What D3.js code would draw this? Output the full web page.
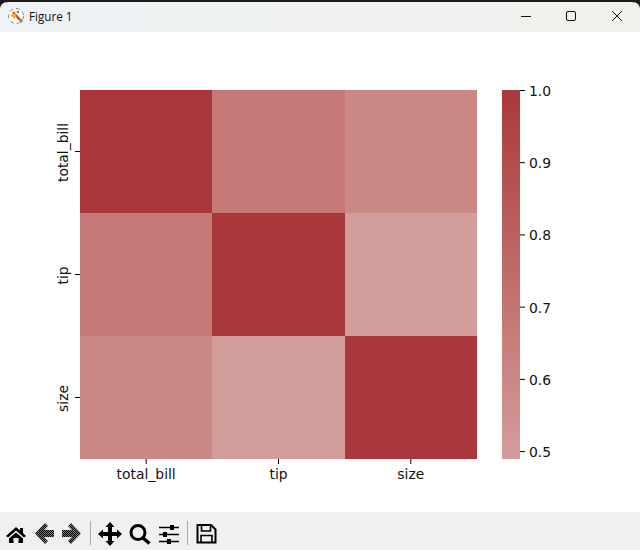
<!DOCTYPE html>
<html>
<head>
<meta charset="utf-8">
<script src="https://cdn.jsdelivr.net/npm/d3@7"></script>
<style>
  html, body { margin: 0; padding: 0; background: #fff; overflow: hidden; }
  svg { display: block; }
  text { font-family: "DejaVu Sans", sans-serif; font-size: 13.9px; fill: #111; }
  .title { font-family: "Open Sans", "Noto Sans", sans-serif; font-size: 11.7px; fill: #111; }
</style>
</head>
<body>
<div id="vis"></div>
<script>
var labels = ["total_bill", "tip", "size"];
var corr = [
  [1.0, 0.676, 0.598],
  [0.676, 1.0, 0.489],
  [0.598, 0.489, 1.0]
];
var barTicks = [0.5, 0.6, 0.7, 0.8, 0.9, 1.0];

var width = 640, height = 550;
var plot = {left: 80, right: 477, top: 90, bottom: 459};
var bar = {left: 502, right: 520};

var svg = d3.select("#vis").append("svg")
  .attr("width", width)
  .attr("height", height);

var defs = svg.append("defs");

// window title bar
var titleGrad = defs.append("linearGradient").attr("id", "titlebar");
titleGrad.append("stop").attr("offset", "0").attr("stop-color", "#eff2f6");
titleGrad.append("stop").attr("offset", "1").attr("stop-color", "#eff2ec");

svg.append("rect").attr("width", width).attr("height", 32).attr("fill", "#1c1c1c");
svg.append("path")
  .attr("d", "M0,32 V10 Q0,2 8,2 H632 Q640,2 640,10 V32 Z")
  .attr("fill", "url(#titlebar)");

var logo = svg.append("g").attr("transform", "translate(16,16)");
logo.append("circle").attr("r", 7.5).attr("fill", "#fff").attr("stroke", "#888").attr("stroke-dasharray", "4 3");
logo.append("path").attr("d", "M-3,-4 L6,6").attr("stroke", "#d9600f").attr("stroke-width", 2.5);
logo.append("path").attr("d", "M-6,-1 L0,-3 L-1,3 Z").attr("fill", "#f2b01e");
logo.append("rect").attr("x", 1).attr("y", -5).attr("width", 2).attr("height", 2).attr("fill", "#3d8a3d");
logo.append("rect").attr("x", 1).attr("y", 1).attr("width", 2).attr("height", 2).attr("fill", "#3d8a3d");

svg.append("text").attr("class", "title").attr("x", 29).attr("y", 21).text("Figure 1");

var winBtn = svg.append("g").attr("fill", "none").attr("stroke", "#111").attr("stroke-width", 1);
winBtn.append("path").attr("d", "M521,16.5 H531");
winBtn.append("rect").attr("x", 566.5).attr("y", 11.5).attr("width", 9).attr("height", 9).attr("rx", 1.5);
winBtn.append("path").attr("d", "M612,11 L622,21 M622,11 L612,21");

// heatmap
var x = d3.scaleBand().domain(labels).range([plot.left, plot.right]);
var y = d3.scaleBand().domain(labels).range([plot.top, plot.bottom]);
var v = d3.scaleLinear().domain([0.489, 1.0]).range([plot.bottom, plot.top]);
var color = d3.scaleLinear()
  .domain([0.489, 1.0])
  .range(["#d39d9b", "#a9373b"])
  .interpolate(d3.interpolateLab);

var cells = [];
corr.forEach(function(row, i) {
  row.forEach(function(d, j) {
    cells.push({row: labels[i], col: labels[j], value: d});
  });
});

svg.selectAll(".cell")
  .data(cells).enter()
  .append("rect")
  .attr("class", "cell")
  .attr("x", function(d) { return x(d.col); })
  .attr("y", function(d) { return y(d.row); })
  .attr("width", x.bandwidth())
  .attr("height", y.bandwidth())
  .attr("fill", function(d) { return color(d.value); })
  .attr("shape-rendering", "crispEdges");

var xAxis = svg.append("g")
  .attr("transform", "translate(0," + plot.bottom + ")")
  .call(d3.axisBottom(x).tickSize(5).tickPadding(5));
xAxis.select(".domain").remove();

var yAxis = svg.append("g")
  .attr("transform", "translate(" + plot.left + ",0)")
  .call(d3.axisLeft(y).tickSize(5).tickPadding(4));
yAxis.select(".domain").remove();
yAxis.selectAll("text")
  .attr("transform", "rotate(-90)")
  .attr("x", -1)
  .attr("y", -12)
  .attr("dy", 0)
  .attr("text-anchor", "middle");

// colorbar, one strip per pixel row
svg.selectAll(".barstep")
  .data(d3.range(plot.top, plot.bottom)).enter()
  .append("rect")
  .attr("class", "barstep")
  .attr("x", bar.left)
  .attr("y", function(d) { return d; })
  .attr("width", bar.right - bar.left)
  .attr("height", 1)
  .attr("shape-rendering", "crispEdges")
  .attr("fill", function(d) { return color(v.invert(d + 0.5)); });

var barAxis = svg.append("g")
  .attr("transform", "translate(" + bar.right + ",0)")
  .call(d3.axisRight(v).tickValues(barTicks).tickFormat(d3.format(".1f")).tickSize(5).tickPadding(4));
barAxis.select(".domain").remove();
barAxis.selectAll("text").attr("dy", "0.4em");

// toolbar
svg.append("rect").attr("y", 512).attr("width", width).attr("height", 38).attr("fill", "#f0f0f0");

var dither = defs.append("pattern")
  .attr("id", "dither")
  .attr("width", 2).attr("height", 2)
  .attr("patternUnits", "userSpaceOnUse");
dither.append("rect").attr("width", 2).attr("height", 2).attr("fill", "#777");
dither.append("rect").attr("width", 1).attr("height", 1).attr("fill", "#000");
dither.append("rect").attr("x", 1).attr("y", 1).attr("width", 1).attr("height", 1).attr("fill", "#000");

var tools = svg.append("g");
// home
tools.append("path")
  .attr("d", "M16,527 L20,530.5 L20,528 L23,528 L23,533 L26,536 L24,537.5 L16,530.5 L8,537.5 L6,536 Z")
  .attr("fill", "#000");
tools.append("path")
  .attr("d", "M16,532.5 L23,538.5 L23,543 L18.5,543 L18.5,538 L13.5,538 L13.5,543 L9,543 L9,538.5 Z")
  .attr("fill", "#000");
// back / forward
tools.append("path")
  .attr("d", "M45,523 L48,526 L44,530 L54,530 L54,537 L44,537 L48,541 L45,544 L35,533.5 Z")
  .attr("fill", "url(#dither)");
tools.append("path")
  .attr("d", "M71,523 L68,526 L72,530 L62,530 L62,537 L72,537 L68,541 L71,544 L81,533.5 Z")
  .attr("fill", "url(#dither)");
// separators
tools.append("path").attr("d", "M90.5,521 V545 M187.5,521 V545").attr("stroke", "#aaa").attr("fill", "none");
// move
tools.append("path")
  .attr("d", "M110,522 L114.5,527 L112,527 L112,532 L117,532 L117,529.5 L122,534 L117,538.5 L117,536 L112,536 L112,541 L114.5,541 L110,546 L105.5,541 L108,541 L108,536 L103,536 L103,538.5 L98,534 L103,529.5 L103,532 L108,532 L108,527 L105.5,527 Z")
  .attr("fill", "#000");
// zoom
tools.append("circle").attr("cx", 138).attr("cy", 532.5).attr("r", 7)
  .attr("fill", "none").attr("stroke", "#000").attr("stroke-width", 3);
tools.append("path").attr("d", "M143,538 L149.5,543.5").attr("stroke", "#000").attr("stroke-width", 3.5);
// sliders
tools.append("path")
  .attr("d", "M159,527.5 H179 M159,534.5 H179 M159,541.5 H179")
  .attr("stroke", "#000").attr("stroke-width", 1.5);
[[170, 525], [163, 532], [167, 539]].forEach(function(p) {
  tools.append("rect").attr("x", p[0]).attr("y", p[1]).attr("width", 4).attr("height", 5).attr("fill", "#000");
});
// save
tools.append("path")
  .attr("d", "M197.5,525 H211 L215.5,529.5 V542.5 H197.5 Z")
  .attr("fill", "none").attr("stroke", "#000").attr("stroke-width", 2);
tools.append("path")
  .attr("d", "M201.5,525.5 V531 H210.5 V525.5 M201,542 V535.5 H212 V542")
  .attr("fill", "none").attr("stroke", "#000").attr("stroke-width", 1.6);
</script>
</body>
</html>
